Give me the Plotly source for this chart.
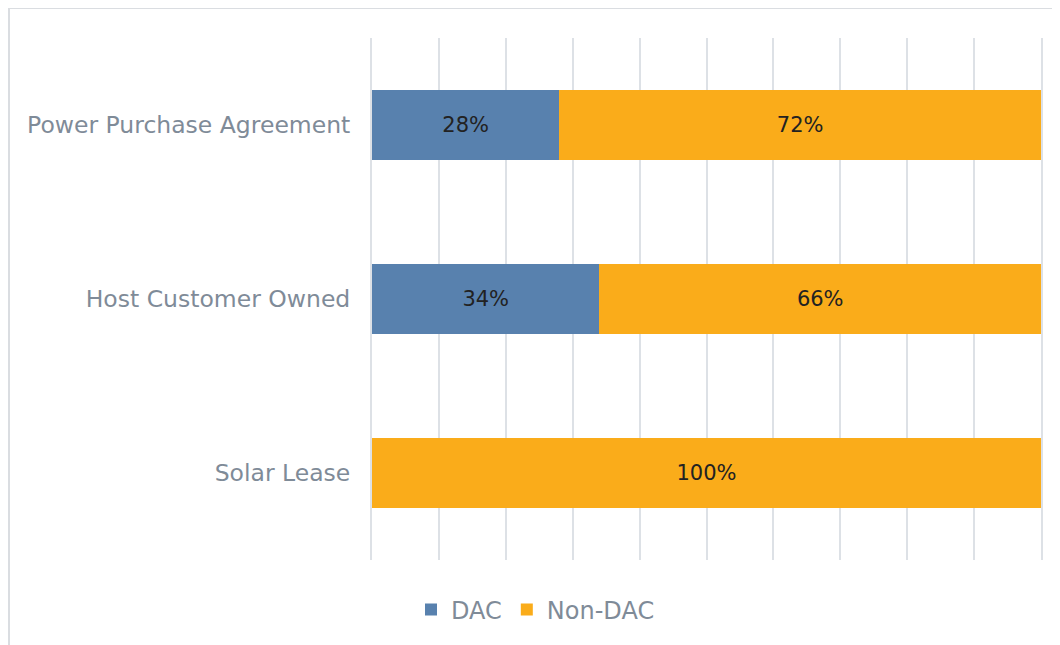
import plotly.graph_objects as go

categories = ["Power Purchase Agreement", "Host Customer Owned", "Solar Lease"]
dac = [0.28, 0.34, 0.0]
non_dac = [0.72, 0.66, 1.0]

DAC_COLOR = "#5881AE"
NON_DAC_COLOR = "#FAAC1A"
GRID = "#DDE1E6"
TEXT = "#7F8B98"
FONT = "DejaVu Sans, Noto Sans, sans-serif"

# page body has an 8px margin, so the figure is sized to the visible area
W, H = 1052, 637
L, R, T, B = 364, 19, 30, 85
PW, PH = W - L - R, H - T - B


def labels(vals):
    return [f"{v:.0%}" if v > 0 else "" for v in vals]


fig = go.Figure()
for name, vals, color in [("DAC", dac, DAC_COLOR), ("Non-DAC", non_dac, NON_DAC_COLOR)]:
    fig.add_trace(go.Bar(
        y=categories, x=vals, name=name, orientation="h",
        marker=dict(color=color, line=dict(width=0)),
        text=labels(vals), textposition="inside", insidetextanchor="middle",
        textfont=dict(color="#222222", size=21, family=FONT),
        hoverinfo="x+name",
    ))

fig.update_layout(
    barmode="stack",
    bargap=0.6,
    width=W, height=H,
    margin=dict(l=L, r=R, t=T, b=B),
    paper_bgcolor="white", plot_bgcolor="white",
    font=dict(family=FONT, color=TEXT, size=23),
    uniformtext=dict(mode="show", minsize=18),
    legend=dict(
        orientation="h", x=(411 - 8 - L) / PW, xanchor="left",
        y=-(610 - 8 - (T + PH)) / PH, yanchor="middle",
        font=dict(size=24, color=TEXT, family=FONT), traceorder="normal",
        itemwidth=30,
    ),
    showlegend=True,
)

fig.update_xaxes(
    range=[0, 1], dtick=0.1, showticklabels=False,
    showgrid=True, gridcolor=GRID, gridwidth=2,
    zeroline=False, showline=False, fixedrange=True,
)
fig.update_yaxes(
    autorange="reversed", showgrid=False,
    showline=True, mirror=True, linecolor=GRID, linewidth=2,
    ticks="", ticklabelstandoff=15,
    tickfont=dict(size=23.5, color=TEXT, family=FONT),
)

# light frame: only the top and left edges are visible in the original
frame = dict(type="line", xref="paper", yref="paper",
             line=dict(color="#DADDE1", width=2), layer="below")
fig.add_shape(x0=(1 - L) / PW, x1=(W + 20 - L) / PW,
              y0=1 + T / PH, y1=1 + T / PH, **frame)
fig.add_shape(x0=(1 - L) / PW, x1=(1 - L) / PW,
              y0=-(H + 20 - T - PH) / PH, y1=1 + T / PH, **frame)

fig.write_html("out.html")
